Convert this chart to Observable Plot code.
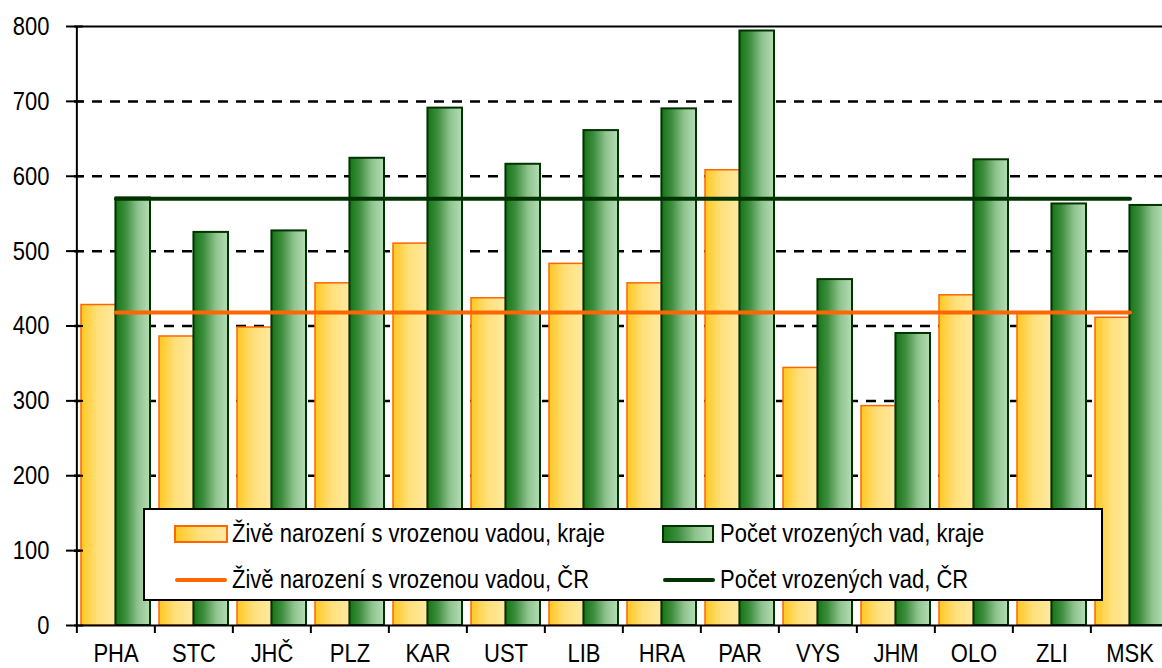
<!DOCTYPE html>
<html>
<head>
<meta charset="utf-8">
<script src="https://cdn.jsdelivr.net/npm/d3@7"></script>
<script src="https://cdn.jsdelivr.net/npm/@observablehq/plot@0.6"></script>
<style>
  html, body { margin: 0; padding: 0; background: white; overflow: hidden; }
  #wrap { position: relative; width: 1162px; height: 668px; font-family: 'Liberation Sans', Arial, sans-serif; }
  #wrap > div > svg { overflow: hidden !important; }
  #legend { position: absolute; left: 143px; top: 508px; width: 956px; height: 89px; border: 2px solid #000; background: #fff; }
  .item { position: absolute; display: flex; align-items: center; height: 30px; font-size: 22px; color: #000; white-space: nowrap; }
  .item svg { margin-right: 4px; }
  .item span { display: inline-block; transform: scaleY(1.2); transform-origin: 0 50%; }
</style>
</head>
<body>
<svg width="0" height="0" style="position:absolute">
  <defs>
    <linearGradient id="gOrange" x1="0" x2="1" y1="0" y2="0">
      <stop offset="0%" stop-color="#FFC720"/>
      <stop offset="45%" stop-color="#FFDF78"/>
      <stop offset="100%" stop-color="#FFEAA2"/>
    </linearGradient>
    <linearGradient id="gGreen" x1="0" x2="1" y1="0" y2="0">
      <stop offset="0%" stop-color="#157515"/>
      <stop offset="30%" stop-color="#3E8E3E"/>
      <stop offset="65%" stop-color="#8FC38F"/>
      <stop offset="100%" stop-color="#B5DDB5"/>
    </linearGradient>
  </defs>
</svg>
<div id="wrap">
  <div id="chart"></div>
  <div id="legend">
    <div class="item" style="left:29px; top:9px;"><svg width="54" height="18"><rect x="1" y="1" width="52" height="16" fill="url(#gOrange)" stroke="#FF6600" stroke-width="2"/></svg><span>Živě narození s vrozenou vadou, kraje</span></div>
    <div class="item" style="left:29px; top:55px;"><svg width="54" height="18"><line x1="3" y1="9" x2="51" y2="9" stroke="#FF6600" stroke-width="4" stroke-linecap="round"/></svg><span>Živě narození s vrozenou vadou, ČR</span></div>
    <div class="item" style="left:517px; top:9px;"><svg width="54" height="18"><rect x="1" y="1" width="50" height="16" fill="url(#gGreen)" stroke="#003300" stroke-width="2"/></svg><span>Počet vrozených vad, kraje</span></div>
    <div class="item" style="left:517px; top:55px;"><svg width="54" height="18"><line x1="3" y1="9" x2="51" y2="9" stroke="#003300" stroke-width="4" stroke-linecap="round"/></svg><span>Počet vrozených vad, ČR</span></div>
  </div>
</div>
<script>
const regions = ["PHA","STC","JHČ","PLZ","KAR","UST","LIB","HRA","PAR","VYS","JHM","OLO","ZLI","MSK"];
const liveBirthsDefect = [428,386,398,457,510,437,483,457,608,344,293,441,417,411];
const defectCount = [571,525,527,624,691,616,661,690,794,462,390,622,563,561];
const liveBirthsDefectCR = 418;
const defectCountCR = 570;
const yTicks = [0,100,200,300,400,500,600,700,800];
const gridTicks = [100,200,300,400,500,600,700];

const orangeData = regions.map((r, i) => ({region: r, value: liveBirthsDefect[i]}));
const greenData = regions.map((r, i) => ({region: r, value: defectCount[i]}));
const orangeCR = regions.map(r => ({region: r, value: liveBirthsDefectCR}));
const greenCR = regions.map(r => ({region: r, value: defectCountCR}));

const x0 = 74, x1 = 1170;
const step = (x1 - x0) / regions.length;
const pIn = 0.12, pOut = 0.06;
const bw = step * (1 - pIn);

const chart = Plot.plot({
  width: 1162,
  height: 668,
  marginLeft: 74,
  marginRight: 0,
  marginTop: 26,
  marginBottom: 43,
  style: {fontFamily: "'Liberation Sans', Arial, sans-serif", background: "white", overflow: "hidden"},
  x: {type: "band", domain: regions, range: [x0, x1], paddingInner: pIn, paddingOuter: pOut, axis: null},
  y: {domain: [0, 800], range: [625, 26], axis: null},
  marks: [
    Plot.ruleY(gridTicks, {stroke: "#000", strokeWidth: 2.5, strokeDasharray: "10,8"}),
    Plot.ruleY([800], {stroke: "#000", strokeWidth: 2}),
    Plot.barY(orangeData, {x: "region", y: "value", fill: "url(#gOrange)", stroke: "#FF6600", strokeWidth: 1.5, insetRight: bw / 2}),
    Plot.barY(greenData, {x: "region", y: "value", fill: "url(#gGreen)", stroke: "#003300", strokeWidth: 2, insetLeft: bw / 2}),
    Plot.lineY(orangeCR, {x: "region", y: "value", stroke: "#FF6600", strokeWidth: 4, strokeLinecap: "round"}),
    Plot.lineY(greenCR, {x: "region", y: "value", stroke: "#003300", strokeWidth: 4, strokeLinecap: "round"}),
    Plot.ruleX([regions[0]], {x: d => d, dx: -step / 2, y1: 0, y2: 800, stroke: "#000", strokeWidth: 2}),
    Plot.ruleY([0], {stroke: "#000", strokeWidth: 2}),
    Plot.axisY({ticks: yTicks, tickSize: 17, dx: 9, tickFormat: () => "", stroke: "#000", strokeWidth: 2, label: null}),
    Plot.axisY({ticks: yTicks, tickSize: 0, tickPadding: 25, fontSize: 22, fill: "#000", label: null, tickFormat: d => String(d)}),
    Plot.axisX({tickSize: 8, tickFormat: () => "", dx: -step / 2, stroke: "#000", strokeWidth: 2, label: null}),
    Plot.axisX({tickSize: 0, tickPadding: 18, fontSize: 22, fill: "#000", label: null})
  ]
});
// Tall, narrow appearance of the original's lettering: stretch glyphs vertically around their anchor
d3.select(chart).selectAll("text").each(function() {
  const x = +this.getAttribute("x") || 0, y = +this.getAttribute("y") || 0;
  const t = this.getAttribute("transform") || "";
  this.setAttribute("transform", `${t} translate(${x},${y}) scale(1,1.2) translate(${-x},${-y})`);
});
document.getElementById("chart").appendChild(chart);
</script>
</body>
</html>
